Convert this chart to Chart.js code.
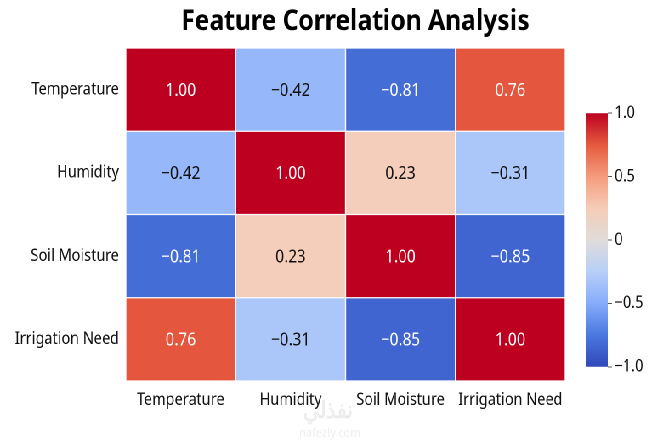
<!DOCTYPE html>
<html>
<head>
<meta charset="utf-8">
<script src="https://cdn.jsdelivr.net/npm/chart.js@4.4.1/dist/chart.umd.min.js"></script>
<style>
  html, body { margin: 0; padding: 0; background: #fff; overflow: hidden; }
  /* the whole figure is drawn wider and squeezed back, which gives the narrow lettering */
  #figure { position: absolute; left: 0; top: 0; width: 770px; height: 442px;
            transform: scaleX(0.85); transform-origin: 0 0; }
  #main { position: absolute; left: 0; top: 0; width: 770px; height: 442px; }
  #bar { position: absolute; left: 689px; top: 100px; width: 80px; height: 280px; }
</style>
</head>
<body>
<div id="figure">
  <div id="main"><canvas id="chart"></canvas></div>
  <div id="bar"><canvas id="colorbar"></canvas></div>
</div>
<script>
const features = ["Temperature", "Humidity", "Soil Moisture", "Irrigation Need"];
const temperatureRow = [1.00, -0.42, -0.81, 0.76];
const humidityRow = [-0.42, 1.00, 0.23, -0.31];
const soilMoistureRow = [-0.81, 0.23, 1.00, -0.85];
const irrigationNeedRow = [0.76, -0.31, -0.85, 1.00];
const colorbarTicks = [-1, -0.5, 0, 0.5, 1];
const colorbarLabels = ["\u22121.0", "\u22120.5", "0", "0.5", "1.0"];

const FONT = '"Noto Sans", "Open Sans", sans-serif';

// coolwarm-like stops
const stops = [
  [-1.0, [48, 73, 184]],
  [-0.75, [74, 120, 224]],
  [-0.5, [134, 172, 251]],
  [-0.25, [183, 208, 249]],
  [0.0, [224, 220, 218]],
  [0.25, [246, 205, 184]],
  [0.5, [245, 156, 124]],
  [0.75, [230, 90, 62]],
  [1.0, [189, 0, 32]]
];

function colorFor(v) {
  for (let i = 1; i < stops.length; i++) {
    if (v <= stops[i][0]) {
      const a = stops[i - 1], b = stops[i];
      const t = (v - a[0]) / (b[0] - a[0]);
      const c = a[1].map((x, k) => Math.round(x + (b[1][k] - x) * t));
      return `rgb(${c[0]},${c[1]},${c[2]})`;
    }
  }
  const c = stops[stops.length - 1][1];
  return `rgb(${c[0]},${c[1]},${c[2]})`;
}

function fmt(v) {
  const s = Math.abs(v).toFixed(2);
  return v < 0 ? "\u2212" + s : s;
}

// stacked from the bottom up, so the last row goes first
const rows = [
  { name: "Irrigation Need", values: irrigationNeedRow },
  { name: "Soil Moisture", values: soilMoistureRow },
  { name: "Humidity", values: humidityRow },
  { name: "Temperature", values: temperatureRow }
];

const cellLabels = {
  id: "cellLabels",
  afterDatasetsDraw(chart) {
    const ctx = chart.ctx;
    ctx.save();
    ctx.font = "18px " + FONT;
    ctx.textAlign = "center";
    ctx.textBaseline = "middle";
    chart.data.datasets.forEach((ds, i) => {
      chart.getDatasetMeta(i).data.forEach((bar, j) => {
        const v = ds.values[j];
        ctx.fillStyle = Math.abs(v) > 0.5 ? "#ffffff" : "#111111";
        ctx.fillText(fmt(v), bar.x, (bar.y + bar.base) / 2 + 1);
      });
    });
    ctx.restore();
  }
};

const headline = {
  id: "headline",
  afterDraw(chart) {
    const ctx = chart.ctx;
    ctx.save();
    ctx.textAlign = "center";
    ctx.textBaseline = "alphabetic";
    ctx.fillStyle = "#000";
    ctx.font = "bold 29px " + FONT;
    ctx.fillText("Feature Correlation Analysis", 418, 30);
    ctx.fillStyle = "rgba(0,0,0,0.07)";
    ctx.font = "bold 24px 'Noto Sans', sans-serif";
    ctx.fillText("نفذلي", 386, 418);
    ctx.font = "13px 'Noto Sans', sans-serif";
    ctx.fillText("nafezly.com", 388, 437);
    ctx.restore();
  }
};

new Chart(document.getElementById("chart"), {
  type: "bar",
  data: {
    labels: features,
    datasets: rows.map(r => ({
      label: r.name,
      values: r.values,
      data: r.values.map(() => 1),
      backgroundColor: r.values.map(colorFor),
      borderColor: "#ffffff",
      borderWidth: 1,
      borderSkipped: false,
      barPercentage: 1,
      categoryPercentage: 1
    }))
  },
  options: {
    responsive: true,
    maintainAspectRatio: false,
    animation: false,
    devicePixelRatio: 2,
    layout: { padding: { top: 48, right: 105, left: 0, bottom: 0 } },
    plugins: {
      legend: { display: false },
      tooltip: { enabled: false }
    },
    scales: {
      x: {
        stacked: true,
        grid: { display: false },
        border: { display: false },
        ticks: { color: "#111", font: { family: FONT, size: 17 }, padding: 1, maxRotation: 0, autoSkip: false },
        afterFit(scale) { scale.height = 61; }
      },
      y: {
        stacked: true,
        min: 0,
        max: 4,
        grid: { display: false },
        border: { display: false },
        afterBuildTicks(scale) {
          scale.ticks = rows.map((r, i) => ({ value: i + 0.5 }));
        },
        ticks: {
          color: "#111",
          font: { family: FONT, size: 17 },
          padding: 0,
          autoSkip: false,
          callback: (v) => rows[Math.floor(v)].name
        },
        afterFit(scale) { scale.width = 148; }
      }
    }
  },
  plugins: [cellLabels, headline]
});

new Chart(document.getElementById("colorbar"), {
  type: "bar",
  data: {
    labels: [""],
    datasets: [{
      data: [[-1, 1]],
      barPercentage: 1,
      categoryPercentage: 1,
      borderWidth: 0,
      backgroundColor(context) {
        const area = context.chart.chartArea;
        if (!area) return colorFor(0);
        const g = context.chart.ctx.createLinearGradient(0, area.bottom, 0, area.top);
        stops.forEach(s => {
          const c = s[1];
          g.addColorStop((s[0] + 1) / 2, `rgb(${c[0]},${c[1]},${c[2]})`);
        });
        return g;
      }
    }]
  },
  options: {
    responsive: true,
    maintainAspectRatio: false,
    animation: false,
    devicePixelRatio: 2,
    layout: { padding: { top: 13, bottom: 13, left: 0, right: 0 } },
    plugins: { legend: { display: false }, tooltip: { enabled: false } },
    scales: {
      x: { display: false },
      y: {
        position: "right",
        min: -1,
        max: 1,
        afterBuildTicks(scale) {
          scale.ticks = colorbarTicks.map(v => ({ value: v }));
        },
        grid: { drawOnChartArea: false, drawTicks: true, tickLength: 5, color: "#555" },
        border: { display: false },
        ticks: {
          color: "#111",
          font: { family: FONT, size: 17 },
          padding: 3,
          callback: (v) => colorbarLabels[colorbarTicks.indexOf(v)]
        },
        afterFit(scale) { scale.width = 54; }
      }
    }
  }
});
</script>
</body>
</html>
